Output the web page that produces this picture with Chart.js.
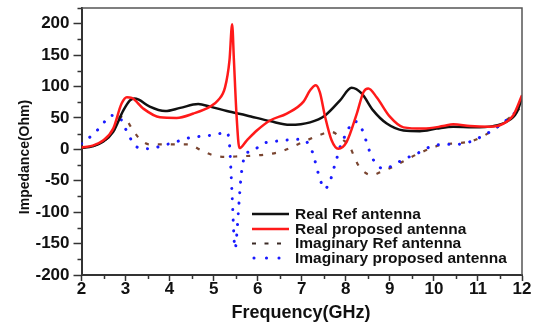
<!DOCTYPE html>
<html>
<head>
<meta charset="utf-8">
<script src="https://cdn.jsdelivr.net/npm/chart.js@4/dist/chart.umd.min.js"></script>
<style>
  html, body { margin: 0; padding: 0; background: #fff; }
  canvas { display: block; }
</style>
</head>
<body>
<canvas id="c" width="534" height="329"></canvas>
<script>
// Antenna input impedance vs frequency (GHz)
const freqRealRef = [2.0, 2.25, 2.49, 2.72, 2.95, 3.1, 3.2, 3.3, 3.55, 3.9, 4.24, 4.65, 4.92, 5.3, 5.75, 6.28, 6.73, 7.19, 7.53, 7.87, 8.13, 8.36, 8.62, 8.93, 9.31, 9.68, 10.06, 10.44, 10.89, 11.35, 11.65, 11.88, 12.0];
const zRealRef    = [2, 5, 12, 28, 62, 78, 81, 79, 68, 61, 66, 72, 68, 61, 54, 45, 39, 43, 54, 78, 98, 89, 62, 41, 30, 29, 33, 36, 35, 37, 44, 59, 82];

const freqRealProp = [2.0, 2.25, 2.49, 2.72, 2.91, 3.03, 3.14, 3.4, 3.78, 4.16, 4.54, 4.92, 5.1, 5.26, 5.36, 5.42, 5.46, 5.52, 5.585, 5.75, 5.98, 6.28, 6.66, 7.04, 7.19, 7.32, 7.41, 7.53, 7.68, 7.83, 8.02, 8.25, 8.4, 8.51, 8.7, 9.0, 9.31, 9.76, 10.21, 10.44, 10.82, 11.27, 11.58, 11.8, 12.0];
const zRealProp    = [3, 6, 14, 33, 73, 83, 82, 65, 51, 50, 57, 68, 78, 99, 142, 199, 142, 54, 2, 14, 30, 46, 57, 76, 94, 102, 91, 52, 14, 1, 12, 57, 91, 97, 83, 52, 35, 33, 37, 40, 37, 36, 41, 54, 86];

const freqImagRef = [2.0, 2.25, 2.49, 2.72, 2.88, 2.99, 3.14, 3.29, 3.54, 4.0, 4.42, 4.73, 5.01, 5.3, 5.6, 5.89, 6.2, 6.5, 6.79, 7.07, 7.38, 7.66, 7.94, 8.1, 8.21, 8.32, 8.59, 8.8, 9.0, 9.31, 9.61, 9.91, 10.21, 10.59, 10.89, 11.12, 11.39, 11.69, 11.95, 12.0];
const zImagRef    = [2, 5, 12, 28, 52, 49, 34, 19, 8, 8, 8, -2, -10, -12, -11, -10, -8, -4, 4, 13, 22, 28, 15, 3, -15, -29, -41, -36, -30, -19, -8, 1, 8, 10, 14, 21, 33, 49, 65, 68];

const freqImagProp = [2.0, 2.25, 2.46, 2.66, 2.87, 2.99, 3.09, 3.25, 3.54, 3.84, 4.15, 4.42, 4.73, 5.01, 5.3, 5.34, 5.36, 5.42, 5.47, 5.49, 5.52, 5.58, 5.62, 5.67, 5.73, 5.85, 6.11, 6.42, 6.69, 7.0, 7.2, 7.28, 7.34, 7.4, 7.52, 7.66, 7.72, 7.79, 7.85, 7.94, 8.04, 8.19, 8.36, 8.44, 8.51, 8.59, 8.74, 8.89, 9.0, 9.31, 9.61, 9.91, 10.21, 10.52, 10.82, 11.12, 11.39, 11.69, 11.95, 12.0];
const zImagProp    = [9, 23, 38, 54, 50, 34, 20, 4, 1, 6, 12, 18, 21, 23, 27, 20, 8, -75, -150, -158, -140, -81, -45, -20, -6, -4, 9, 13, 15, 16, 3, -13, -29, -44, -63, -47, -32, -16, 0, 15, 30, 45, 33, 18, 3, -12, -27, -31, -28, -16, -7, 4, 8, 8, 12, 22, 33, 49, 65, 68];

const seriesNames = ['Real Ref antenna', 'Real proposed antenna', 'Imaginary Ref antenna', 'Imaginary proposed antenna'];
const xTicks = [2, 3, 4, 5, 6, 7, 8, 9, 10, 11, 12];
const yTicks = [-200, -150, -100, -50, 0, 50, 100, 150, 200];
const xTitle = 'Frequency(GHz)';
const yTitle = 'Impedance(Ohm)';

const FONT = '"Liberation Sans", Arial, Helvetica, sans-serif';
const pts = (fs, zs) => fs.map((f, i) => ({ x: f, y: zs[i] }));

// axis titles, minor ticks, frame and in-plot legend
const decor = {
  id: 'decor',
  afterDraw(chart) {
    const { ctx, chartArea: a, scales: { x, y } } = chart;
    ctx.save();
    // top / right frame
    ctx.strokeStyle = '#555';
    ctx.lineWidth = 1.5;
    ctx.beginPath();
    ctx.moveTo(a.left, a.top);
    ctx.lineTo(a.right, a.top);
    ctx.lineTo(a.right, a.bottom);
    ctx.stroke();

    // minor ticks halfway between majors
    ctx.strokeStyle = '#333';
    ctx.lineWidth = 1.5;
    ctx.beginPath();
    for (let i = 0; i < yTicks.length; i++) {
      const v = yTicks[i] + 25;
      if (v > y.max) break;
      const py = Math.round(y.getPixelForValue(v)) + 0.5;
      ctx.moveTo(a.left - 4, py); ctx.lineTo(a.left, py);
    }
    for (let i = 0; i < xTicks.length - 1; i++) {
      const px = Math.round(x.getPixelForValue((xTicks[i] + xTicks[i + 1]) / 2)) + 0.5;
      ctx.moveTo(px, a.bottom); ctx.lineTo(px, a.bottom + 4);
    }
    ctx.stroke();

    // axis titles
    ctx.fillStyle = '#111';
    ctx.textAlign = 'center';
    ctx.textBaseline = 'middle';
    ctx.font = 'bold 18px ' + FONT;
    ctx.fillText(xTitle, 301, 313);
    ctx.save();
    ctx.translate(25, 157);
    ctx.rotate(-Math.PI / 2);
    ctx.font = 'bold 14px ' + FONT;
    ctx.fillText(yTitle, 0, 0);
    ctx.restore();

    // legend
    const rows = [214, 229, 243.5, 258];
    ctx.font = 'bold 15.5px ' + FONT;
    ctx.textAlign = 'left';
    chart.data.datasets.forEach((ds, i) => {
      const ly = rows[i];
      ctx.strokeStyle = ds.legendColor || ds.borderColor;
      ctx.lineWidth = ds.borderWidth;
      ctx.lineCap = ds.borderCapStyle || 'butt';
      ctx.beginPath();
      if (ds.borderDash && ds.borderDash.length) {
        [254, 266.5, 279].forEach(cx => {
          const half = Math.max(ds.borderDash[0], 0.1) / 2;
          ctx.moveTo(cx - half, ly); ctx.lineTo(cx + half, ly);
        });
      } else {
        ctx.moveTo(252, ly); ctx.lineTo(289, ly);
      }
      ctx.stroke();
      ctx.fillStyle = '#111';
      ctx.fillText(ds.label, 295, ly + 0.5);
    });
    ctx.restore();
  }
};

new Chart(document.getElementById('c'), {
  type: 'line',
  data: {
    datasets: [
      { label: seriesNames[0], data: pts(freqRealRef, zRealRef), borderColor: '#111', borderWidth: 2.5, order: 2 },
      { label: seriesNames[1], data: pts(freqRealProp, zRealProp), borderColor: '#ff1a1a', borderWidth: 2.5, order: 1 },
      { label: seriesNames[2], data: pts(freqImagRef, zImagRef), borderColor: '#7a4530', legendColor: '#3a2a25', borderWidth: 2.2, borderDash: [4, 9], order: 4 },
      { label: seriesNames[3], data: pts(freqImagProp, zImagProp), borderColor: '#1a1aff', borderWidth: 3, borderDash: [0.1, 10.5], borderCapStyle: 'round', order: 3 }
    ]
  },
  options: {
    responsive: false,
    animation: false,
    devicePixelRatio: 1,
    layout: { padding: { left: 0, right: 12, top: 8, bottom: 0 } },
    elements: {
      point: { radius: 0, hoverRadius: 0 },
      line: { cubicInterpolationMode: 'monotone', fill: false }
    },
    plugins: { legend: { display: false }, tooltip: { enabled: false } },
    scales: {
      x: {
        type: 'linear',
        min: 2, max: 12,
        afterFit: s => { s.height = 54; s.paddingLeft = 0; s.paddingRight = 0; },
        afterBuildTicks: s => { s.ticks = xTicks.map(v => ({ value: v })); },
        ticks: { color: '#111', font: { family: FONT, size: 17, weight: 'bold' }, padding: -2, maxRotation: 0 },
        grid: { drawOnChartArea: false, drawTicks: true, tickLength: 6, tickColor: '#333', tickWidth: 1.5 },
        border: { display: true, color: '#333', width: 2 }
      },
      y: {
        type: 'linear',
        min: -200, max: 225,
        afterFit: s => { s.width = 81.5; s.paddingTop = 0; s.paddingBottom = 0; },
        afterBuildTicks: s => { s.ticks = yTicks.map(v => ({ value: v })); },
        ticks: { color: '#111', font: { family: FONT, size: 17, weight: 'bold' }, padding: 4 },
        grid: { drawOnChartArea: false, drawTicks: true, tickLength: 8, tickColor: '#333', tickWidth: 1.5 },
        border: { display: true, color: '#333', width: 2 }
      }
    }
  },
  plugins: [decor]
});
</script>
</body>
</html>
